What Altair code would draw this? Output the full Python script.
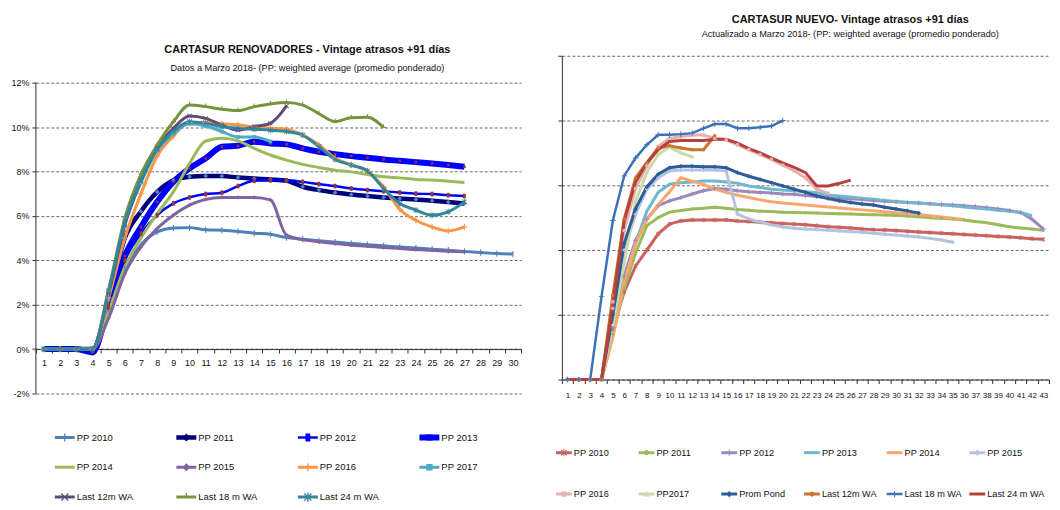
import altair as alt
import pandas as pd

FONT = "Liberation Sans, Arial, sans-serif"

# ---------------- LEFT CHART DATA (values in %) ----------------
left_title = "CARTASUR RENOVADORES - Vintage atrasos +91 días"
left_subtitle = "Datos a  Marzo 2018- (PP: weighted average (promedio ponderado)"
left_periods = list(range(1, 31))
left_ticks = [-2, 0, 2, 4, 6, 8, 10, 12]

left_names = ["PP 2010", "PP 2011", "PP 2012", "PP 2013", "PP 2014", "PP 2015",
              "PP 2016", "PP 2017", "Last 12m WA", "Last 18 m WA", "Last 24 m WA"]
left_colors = ["#4F81BD", "#00007F", "#0000FF", "#0000FF", "#9BBB59", "#8064A2",
               "#F79646", "#4BACC6", "#604A7B", "#77933C", "#31859C"]
left_widths = [3, 4.5, 2.5, 6, 3, 3, 3, 3, 3, 3, 3]

l_pp2010 = [0, 0, 0, 0, 1.8, 3.6, 4.7, 5.28, 5.45, 5.47, 5.37, 5.35, 5.3, 5.22, 5.17, 5.02,
            4.95, 4.88, 4.82, 4.76, 4.7, 4.65, 4.6, 4.55, 4.5, 4.45, 4.4, 4.35, 4.3, 4.28]
l_pp2011 = [0, 0, 0, 0, 2.2, 5.0, 6.2, 7.08, 7.6, 7.76, 7.8, 7.79, 7.73, 7.68, 7.64, 7.58,
            7.31, 7.16, 7.05, 6.96, 6.89, 6.83, 6.78, 6.74, 6.68, 6.62, 6.56]
l_pp2012 = [0, 0, 0, 0, 1.9, 4.0, 5.2, 6.03, 6.56, 6.83, 6.98, 7.04, 7.34, 7.58, 7.6, 7.6,
            7.53, 7.43, 7.34, 7.23, 7.16, 7.11, 7.05, 7.0, 6.98, 6.93, 6.89]
l_pp2013 = [0, 0, 0, -0.15, 2.0, 4.2, 5.5, 6.63, 7.53, 8.14, 8.59, 9.11, 9.16, 9.34, 9.26,
            9.22, 9.04, 8.89, 8.78, 8.69, 8.62, 8.54, 8.48, 8.42, 8.36, 8.29, 8.21]
l_pp2014 = [0, 0, 0, 0, 1.7, 3.7, 5.0, 6.1, 7.08, 8.36, 9.37, 9.49, 9.38, 9.04, 8.74, 8.51,
            8.32, 8.18, 8.06, 7.98, 7.86, 7.76, 7.71, 7.64, 7.61, 7.56, 7.5]
l_pp2015 = [0, 0, 0, 0, 1.4, 3.4, 4.6, 5.43, 6.03, 6.48, 6.74, 6.83, 6.83, 6.83, 6.72, 5.13,
            4.93, 4.83, 4.75, 4.68, 4.63, 4.57, 4.53, 4.48, 4.45, 4.41, 4.38]
l_pp2016 = [0, 0, 0, 0, 2.3, 5.0, 7.0, 8.7, 9.6, 10.2, 10.2, 10.15, 10.1, 10.0, 9.95, 9.9,
            9.64, 9.2, 8.6, 8.3, 8.0, 7.3, 6.3, 5.8, 5.5, 5.32, 5.5]
l_pp2017 = [0, 0, 0, 0, 2.6, 5.6, 7.5, 8.95, 9.7, 10.15, 10.05, 9.8, 9.55, 9.55, 9.35]
l_last12 = [0, 0, 0, 0, 2.5, 5.6, 7.6, 9.04, 9.94, 10.5, 10.39, 10.09, 9.86, 10.02, 10.17, 10.95]
l_last18 = [0, 0, 0, 0, 2.7, 5.9, 7.88, 9.19, 10.24, 10.99, 10.92, 10.8, 10.74, 10.92, 11.04,
            11.1, 10.99, 10.6, 10.24, 10.42, 10.44, 9.98]
l_last24 = [0, 0, 0, 0, 2.6, 5.7, 7.6, 9.0, 9.8, 10.24, 10.17, 10.02, 9.94, 9.9, 9.86, 9.8,
            9.64, 9.11, 8.54, 8.29, 8.03, 7.23, 6.56, 6.26, 6.03, 6.18, 6.63]
left_series = [l_pp2010, l_pp2011, l_pp2012, l_pp2013, l_pp2014, l_pp2015,
               l_pp2016, l_pp2017, l_last12, l_last18, l_last24]

# ---------------- marker glyphs (filled paths in a unit box, all wound clockwise) ----------
H, T = 0.4, 0.065
D = T * 1.4


def _rect(x0, y0, x1, y1):
    return f"M{x0},{y0}L{x1},{y0}L{x1},{y1}L{x0},{y1}Z"


M_NONE = ""
M_TICK = _rect(-T, -H, T, H)
M_PLUS = _rect(-T, -H, T, H) + _rect(-H, -T, H, T)
M_X = (f"M{-H},{-H + D}L{-H + D},{-H}L{H},{H - D}L{H - D},{H}Z"
       f"M{-H},{H - D}L{H - D},{-H}L{H},{-H + D}L{-H + D},{H}Z")
M_STAR = M_X + _rect(-T, -H * 1.15, T, H * 1.15)
M_INVT = _rect(-T, -H, T, 0) + _rect(-H * 0.8, -T, H * 0.8, T)
M_SQ = _rect(-H * 0.8, -H * 0.8, H * 0.8, H * 0.8)
M_TALL = _rect(-H * 0.6, -H, H * 0.6, H)
M_DIA = f"M0,{-H}L{H},0L0,{H}L{-H},0Z"
M_TRI = f"M0,{-H}L{H},{H * 0.75}L{-H},{H * 0.75}Z"
R = H * 0.8
M_CIRC = f"M{-R},0A{R},{R} 0 1,1 {R},0A{R},{R} 0 1,1 {-R},0Z"
M_DASH = _rect(-H, -T * 1.2, H, T * 1.2)


def legend_glyph(marker, line_px, unit_px):
    half = line_px / unit_px / 2
    return _rect(-1, -half, 1, half) + marker


# per series: glyph, colour, size in plot
left_marker_glyph = [M_TICK, M_DIA, M_TALL, M_SQ, M_NONE, M_DIA,
                     M_PLUS, M_SQ, M_X, M_INVT, M_STAR]
left_marker_color = ["#4F81BD", "#4F81BD", "#953735", "#953735", "#9BBB59", "#8064A2",
                     "#F79646", "#4BACC6", "#604A7B", "#77933C", "#31859C"]
left_marker_size = [250, 140, 140, 60, 0, 110, 250, 140, 150, 250, 170]
left_legend_size = 400

# ---------------- RIGHT CHART DATA (values in %) ----------------
right_title = "CARTASUR NUEVO- Vintage atrasos +91 días"
right_subtitle = "Actualizado a Marzo 2018- (PP: weighted average (promedio ponderado)"
right_periods = list(range(1, 44))
right_ticks = [0, 2, 4, 6, 8, 10]

right_names = ["PP 2010", "PP 2011", "PP 2012", "PP 2013", "PP 2014", "PP 2015",
               "PP 2016", "PP2017", "Prom Pond", "Last 12m WA", "Last 18 m WA", "Last 24 m WA"]
right_colors = ["#C9625F", "#9BBB59", "#9C88BD", "#6FB8CE", "#F9A66C", "#B4C4E0",
                "#E4B2B1", "#C9DBA8", "#2E5C97", "#C87632", "#3D72B8", "#B8403C"]
right_widths = [3, 3, 3, 3, 3, 3, 3, 3, 3, 3, 2.5, 3]

r_pp2010 = [0, 0, 0, 0, 1.55, 2.7, 3.5, 4.0, 4.5, 4.8, 4.9, 4.93, 4.93, 4.93, 4.93, 4.9,
            4.88, 4.86, 4.84, 4.82, 4.8, 4.78, 4.75, 4.72, 4.7, 4.68, 4.65, 4.63, 4.62, 4.6,
            4.58, 4.56, 4.54, 4.52, 4.5, 4.48, 4.46, 4.44, 4.42, 4.4, 4.38, 4.35, 4.33]
r_pp2011 = [0, 0, 0, 0, 1.4, 2.8, 3.9, 4.75, 5.0, 5.17, 5.22, 5.27, 5.29, 5.32, 5.29, 5.25,
            5.23, 5.2, 5.19, 5.17, 5.16, 5.15, 5.14, 5.13, 5.12, 5.11, 5.1, 5.09, 5.08, 5.07,
            5.05, 5.03, 5.0, 4.98, 4.96, 4.93, 4.88, 4.84, 4.78, 4.72, 4.68, 4.65, 4.61]
r_pp2012 = [0, 0, 0, 0, 1.6, 3.2, 4.3, 4.95, 5.37, 5.52, 5.62, 5.73, 5.83, 5.9, 5.88, 5.83,
            5.8, 5.78, 5.76, 5.73, 5.72, 5.68, 5.65, 5.62, 5.6, 5.58, 5.56, 5.53, 5.51, 5.49,
            5.47, 5.45, 5.43, 5.41, 5.39, 5.37, 5.34, 5.31, 5.27, 5.22, 5.16, 4.95, 4.65]
r_pp2013 = [0, 0, 0, 0, 1.4, 3.0, 4.2, 5.2, 5.78, 6.03, 6.08, 6.1, 6.13, 6.13, 6.1, 6.06,
            5.98, 5.93, 5.88, 5.85, 5.83, 5.8, 5.77, 5.7, 5.67, 5.64, 5.6, 5.57, 5.53, 5.5,
            5.47, 5.45, 5.42, 5.4, 5.37, 5.33, 5.3, 5.27, 5.23, 5.2, 5.16, 5.06]
r_pp2014 = [0, 0, 0, 0, 1.3, 3.0, 4.2, 4.96, 5.4, 5.8, 6.23, 6.13, 6.03, 5.88, 5.78, 5.69,
            5.62, 5.55, 5.49, 5.45, 5.42, 5.39, 5.36, 5.33, 5.3, 5.27, 5.24, 5.21, 5.18, 5.15,
            5.12, 5.1, 5.06, 5.02, 4.98, 4.94]
r_pp2015 = [0, 0, 0, 0, 2.2, 4.0, 5.1, 5.88, 6.23, 6.44, 6.47, 6.47, 6.47, 6.47, 6.44, 5.11,
            4.96, 4.86, 4.78, 4.71, 4.67, 4.65, 4.63, 4.61, 4.59, 4.57, 4.55, 4.52, 4.49, 4.46,
            4.43, 4.4, 4.36, 4.31, 4.24]
r_pp2016 = [0, 0, 0, 0, 2.4, 4.6, 5.9, 6.6, 7.2, 7.45, 7.5, 7.55, 7.55, 7.45, 7.4, 7.25,
            7.1, 6.95, 6.8, 6.62, 6.45, 6.23, 5.88, 5.75]
r_pp2017 = [0, 0, 0, 0, 1.7, 3.6, 5.5, 6.4, 6.95, 7.18, 7.0, 6.88]
r_prom = [0, 0, 0, 0, 2.0, 4.2, 5.27, 5.95, 6.34, 6.54, 6.59, 6.59, 6.57, 6.57, 6.54, 6.39,
          6.28, 6.18, 6.08, 5.98, 5.88, 5.78, 5.67, 5.59, 5.52, 5.47, 5.42, 5.39, 5.32, 5.27,
          5.21, 5.14]
r_last12 = [0, 0, 0, 0, 2.6, 4.96, 6.23, 6.7, 7.15, 7.22, 7.15, 7.1, 7.1, 7.53]
r_last18 = [0, 0, 0, 2.56, 4.91, 6.29, 6.84, 7.25, 7.56, 7.56, 7.58, 7.61, 7.76, 7.89, 7.89,
            7.76, 7.76, 7.79, 7.83, 8.0]
r_last24 = [0, 0, 0, 0, 2.3, 4.9, 6.1, 6.69, 7.1, 7.35, 7.38, 7.38, 7.38, 7.42, 7.42, 7.3,
            7.13, 7.0, 6.84, 6.69, 6.55, 6.39, 5.98, 5.98, 6.06, 6.16]
right_series = [r_pp2010, r_pp2011, r_pp2012, r_pp2013, r_pp2014, r_pp2015,
                r_pp2016, r_pp2017, r_prom, r_last12, r_last18, r_last24]

right_marker_glyph = [M_STAR, M_CIRC, M_PLUS, M_NONE, M_NONE, M_DIA,
                      M_SQ, M_TRI, M_DIA, M_CIRC, M_PLUS, M_DASH]
right_marker_color = ["#C9625F", "#9BBB59", "#9C88BD", "#6FB8CE", "#F9A66C", "#B4C4E0",
                      "#E4B2B1", "#C9DBA8", "#2E5C97", "#C87632", "#3D72B8", "#B8403C"]
right_marker_size = [110, 90, 160, 0, 0, 110, 110, 110, 130, 110, 200, 0]
right_legend_size = 256


def long_frame(names, series, widths, field):
    rows = []
    for name, vals, w in zip(names, series, widths):
        for i, v in enumerate(vals):
            rows.append({field: name, "p": i + 1, "v": v, "sw": w})
    return pd.DataFrame(rows)


def marker_frame(names, series, sizes, field):
    rows = []
    for name, vals, s in zip(names, series, sizes):
        if s <= 0:
            continue
        for i, v in enumerate(vals):
            rows.append({field: name, "p": i + 1, "v": v, "ms": s})
    return pd.DataFrame(rows)


def legend_frame(names, series, field):
    # one hidden (size 0) point per series: it only feeds the legend
    return pd.DataFrame([{field: n, "p": 1, "v": s[0], "ms": 0} for n, s in zip(names, series)])


GRID = dict(grid=True, gridColor="#6a6a6a", gridDash=[3, 2], gridWidth=1)


def make_legend(x, y, cols, size, font_size, col_pad, row_pad):
    return alt.Legend(title=None, orient="none", legendX=x, legendY=y, columns=cols,
                      direction="horizontal", symbolSize=size, symbolStrokeWidth=0,
                      labelFont=FONT, labelFontSize=font_size, labelColor="#111",
                      columnPadding=col_pad, rowPadding=row_pad, gridAlign="all",
                      padding=0, labelOffset=2, labelLimit=200)


def build_panel(names, colors, widths, series, periods, mglyph, mcolor, msize, leg_size,
                tag, x_axis, y_axis, y_scale, legend, interpolate, extra=None):
    df = long_frame(names, series, widths, "s_" + tag)
    dm = marker_frame(names, series, msize, "m_" + tag)
    dg = legend_frame(names, series, "g_" + tag)
    unit = (leg_size ** 0.5) / 2
    lglyph = [legend_glyph(m, w, unit) for m, w in zip(mglyph, widths)]
    mpaths = [m if m else "M0,0L0,0" for m in mglyph]
    x = alt.X("p:O", scale=alt.Scale(type="band", domain=periods, paddingInner=0, paddingOuter=0),
              axis=x_axis)
    y = alt.Y("v:Q", scale=y_scale, axis=y_axis)
    lines = alt.Chart(df).mark_line(interpolate=interpolate).encode(
        x=x, y=y,
        color=alt.Color("s_" + tag + ":N", scale=alt.Scale(domain=names, range=colors), legend=None),
        strokeWidth=alt.StrokeWidth("sw:Q", scale=None),
        order=alt.Order("p:Q"),
    )
    points = alt.Chart(dm).mark_point(filled=True, opacity=1, strokeWidth=0).encode(
        x=x, y=y,
        color=alt.Color("m_" + tag + ":N", scale=alt.Scale(domain=names, range=mcolor), legend=None),
        shape=alt.Shape("m_" + tag + ":N", scale=alt.Scale(domain=names, range=mpaths), legend=None),
        size=alt.Size("ms:Q", scale=None),
    )
    leg = alt.Chart(dg).mark_point(filled=True, opacity=1, strokeWidth=0).encode(
        x=x, y=y,
        color=alt.Color("g_" + tag + ":N", scale=alt.Scale(domain=names, range=colors), legend=legend),
        shape=alt.Shape("g_" + tag + ":N", scale=alt.Scale(domain=names, range=lglyph), legend=legend),
        size=alt.Size("ms:Q", scale=None),
    )
    layers = [lines, points, leg] + ([extra] if extra is not None else [])
    return alt.layer(*layers).resolve_scale(color="independent", shape="independent")


# ---------------- LEFT CHART ----------------
LW, LH = 487, 339
L_DOM = [-2, 13.21]
l_zero_offset = -LH * (0 - L_DOM[0]) / (L_DOM[1] - L_DOM[0])
df_laxis = pd.DataFrame({"y0": [left_ticks[0]], "y1": [left_ticks[-1]]})

lx_axis = alt.Axis(title=None, labelAngle=0, tickBand="extent", offset=l_zero_offset,
                   domainColor="#303030", tickColor="#303030", tickSize=4,
                   labelFont=FONT, labelFontSize=9, labelColor="#111", labelPadding=5,
                   labelOverlap=False, grid=False)
ly_axis = alt.Axis(title=None, values=left_ticks, labelExpr="datum.value + '%'", domain=False,
                   tickColor="#303030", tickSize=4, labelFont=FONT, labelFontSize=9,
                   labelColor="#111", labelPadding=3, **GRID)
ly_scale = alt.Scale(domain=L_DOM, nice=False, zero=False)

l_yline = alt.Chart(df_laxis).mark_rule(color="#303030", strokeWidth=1).encode(
    x=alt.value(0),
    y=alt.Y("y0:Q", scale=ly_scale, axis=ly_axis),
    y2="y1:Q",
)

left = build_panel(left_names, left_colors, left_widths, left_series, left_periods,
                   left_marker_glyph, left_marker_color, left_marker_size, left_legend_size,
                   "l", lx_axis, ly_axis, ly_scale,
                   make_legend(19, 373, 4, left_legend_size, 9.5, 40, 15), "monotone",
                   extra=l_yline).properties(
    width=LW, height=LH,
    title=alt.TitleParams(text=left_title, subtitle=left_subtitle, font=FONT, fontSize=11,
                          fontWeight="bold", subtitleFont=FONT, subtitleFontSize=9.2,
                          subtitlePadding=9, anchor="middle", dx=29, offset=-17.5,
                          color="#111", subtitleColor="#111"),
)

# ---------------- RIGHT CHART ----------------
RW, RH = 489, 325
rx_axis = alt.Axis(title=None, labelAngle=0, tickBand="extent", domainColor="#303030",
                   tickColor="#303030", tickSize=4, labelFont=FONT, labelFontSize=8,
                   labelColor="#111", labelPadding=8, labelOverlap=False, grid=False)
ry_axis = alt.Axis(title=None, values=right_ticks, labels=False, domainColor="#303030",
                   tickColor="#303030", tickSize=4, **GRID)
ry_scale = alt.Scale(domain=[0, 10], nice=False, zero=False)

right = build_panel(right_names, right_colors, right_widths, right_series, right_periods,
                    right_marker_glyph, right_marker_color, right_marker_size, right_legend_size,
                    "r", rx_axis, ry_axis, ry_scale,
                    make_legend(-6, 390, 6, right_legend_size, 9.2, 7, 28), "linear").properties(
    width=RW, height=RH,
    title=alt.TitleParams(text=right_title, subtitle=right_subtitle, font=FONT, fontSize=11,
                          fontWeight="bold", subtitleFont=FONT, subtitleFontSize=9.2,
                          subtitlePadding=5, anchor="middle", dx=45, offset=16.5,
                          color="#111", subtitleColor="#111"),
)

chart = alt.hconcat(left, right, spacing=41, bounds="flush").resolve_scale(
    x="independent", y="independent", color="independent", shape="independent"
).resolve_legend(color="independent", shape="independent").properties(
    padding={"left": 2, "top": 4, "right": 2, "bottom": 2},
    background="white",
).configure_view(stroke=None)

chart.save("out.html", embed_options={"renderer": "svg", "actions": False})
